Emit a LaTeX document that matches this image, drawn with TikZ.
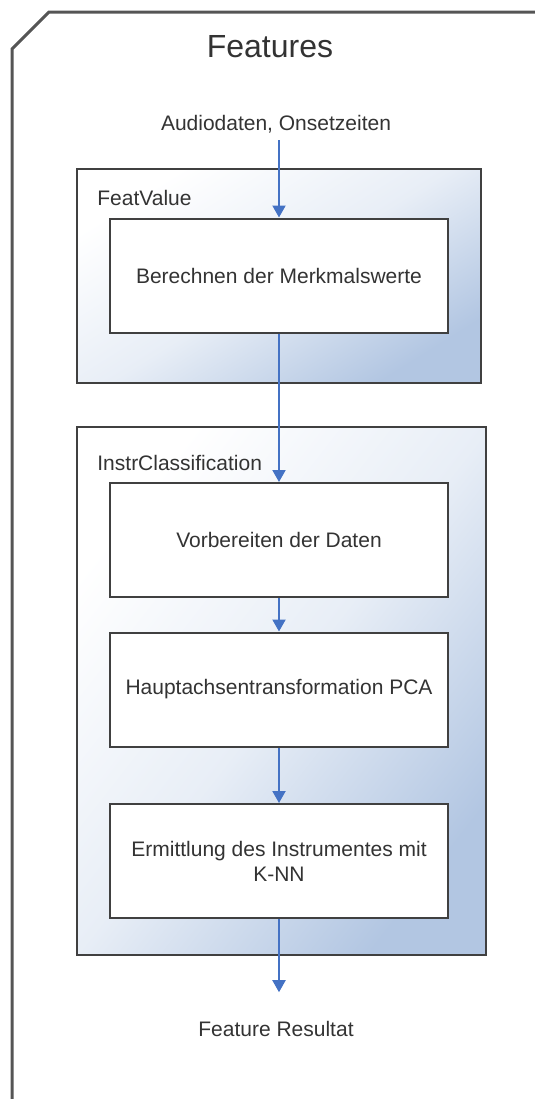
\documentclass[tikz,border=0pt]{standalone}
\usepackage{fontspec}
\setmainfont{Liberation Sans}
\usetikzlibrary{arrows.meta}
\definecolor{framegray}{RGB}{85,85,85}
\definecolor{linegray}{RGB}{64,64,64}
\definecolor{textgray}{RGB}{51,51,51}
\definecolor{flowblue}{RGB}{68,114,196}
\definecolor{groupblue}{RGB}{178,198,226}

\tikzset{
  every node/.style={text=textgray, font=\fontsize{10.5}{12.6}\selectfont},
  group/.style={draw=linegray, line width=1.2pt, top color=white,
    bottom color=groupblue, middle color=groupblue!30, inner sep=0pt},
  grouplabel/.style={anchor=west, inner sep=0pt},
  stepbox/.style={draw=linegray, line width=1pt, fill=white,
    minimum width=169pt, minimum height=57pt, align=center, inner sep=0pt},
  flow/.style={draw=flowblue, line width=1pt,
    -{Triangle[width=6.5pt,length=6pt]}},
}

\begin{document}
\begin{tikzpicture}[x=0.5pt, y=-0.5pt]
    \useasboundingbox (0,0) rectangle (535,1099);
    % outer frame
    \draw[framegray, line width=1.5pt] (535,12) -- (49,12) -- (12,49) -- (12,1099);
    \node (title) at (270,47) {\fontsize{16}{19}\selectfont Features};
    \node (in) at (276,124) {Audiodaten, Onsetzeiten};

    % groups
    \node[group, shading angle=32, minimum width=202pt, minimum height=107pt] (featvalue) at (279,276) {};
    \node[grouplabel] at (97,198) {FeatValue};
    \node[group, shading angle=52, minimum width=204.5pt, minimum height=264pt] (instr) at (281.5,691) {};
    \node[grouplabel] at (97,463) {InstrClassification};

    % steps
    \node[stepbox] (calc) at (279,275.5) {Berechnen der Merkmalswerte};
    \node[stepbox] (prep) at (279,540) {Vorbereiten der Daten};
    \node[stepbox] (pca) at (279,689.5) {Hauptachsentransformation PCA};
    \node[stepbox] (knn) at (279,861) {Ermittlung des Instrumentes mit\\K-NN};
    \node (out) at (276,1029) {Feature Resultat};

    \draw[flow] (in.south -| calc.north) -- (calc.north);
    \draw[flow] (calc) -- (prep);
    \draw[flow] (prep) -- (pca);
    \draw[flow] (pca) -- (knn);
    \draw[flow, shorten >=11pt] (knn.south) -- (out.north -| knn.south);
\end{tikzpicture}
\end{document}
